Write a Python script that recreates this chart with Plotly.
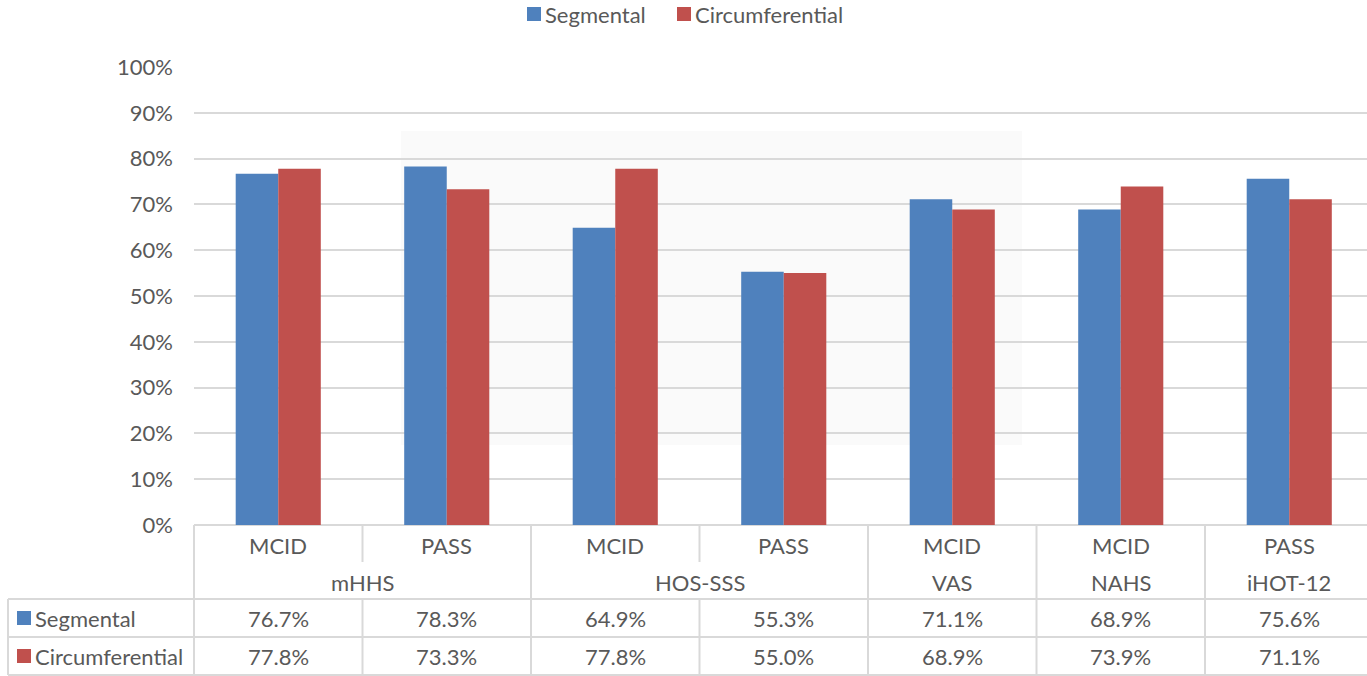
import plotly.graph_objects as go

# Outcome measures and thresholds
categories = ["MCID", "PASS", "MCID", "PASS", "MCID", "MCID", "PASS"]
groups = ["mHHS", "mHHS", "HOS-SSS", "HOS-SSS", "VAS", "NAHS", "iHOT-12"]
segmental = [76.7, 78.3, 64.9, 55.3, 71.1, 68.9, 75.6]
circumferential = [77.8, 73.3, 77.8, 55.0, 68.9, 73.9, 71.1]
series_names = ["Segmental", "Circumferential"]
y_ticks = [0, 10, 20, 30, 40, 50, 60, 70, 80, 90, 100]

BLUE = "#4F81BD"
RED = "#C0504D"
TEXT = "#595959"
LINE = "#D9D9D9"
FONT = "Lato, Carlito, 'Open Sans', sans-serif"
FS = 22

W, H = 1367, 676
ML, MT, MB = 194, 67, 151
PLOT_H = H - MT - MB
X0 = -0.5
X1 = -0.5 + (W - ML) / 168.5

keys = [f"{g} {c}" for g, c in zip(groups, categories)]


def px_x(idx):
    # category-axis position -> paper x
    return (idx - X0) / (X1 - X0)


def abs_x(px):
    return (px - ML) / (W - ML)


def abs_y(py):
    return (H - MB - py) / PLOT_H


fig = go.Figure()
fig.add_trace(go.Bar(x=keys, y=segmental, name=series_names[0],
                     marker=dict(color=BLUE, line=dict(width=0))))
fig.add_trace(go.Bar(x=keys, y=circumferential, name=series_names[1],
                     marker=dict(color=RED, line=dict(width=0))))

shapes = []
annotations = []

# faint background emblem
shapes.append(dict(type="rect", xref="paper", yref="paper",
                   x0=abs_x(401), x1=abs_x(1022), y0=abs_y(445), y1=abs_y(131),
                   fillcolor="#FAFAFA", line=dict(width=0), layer="below"))

# data table grid
y_top, y_mid, y_row1, y_row2, y_bot = 525, 562, 599, 637, 675
right = 1.0
for y in (y_row1, y_row2, y_bot):
    shapes.append(dict(type="line", xref="paper", yref="paper",
                       x0=abs_x(8), x1=right, y0=abs_y(y), y1=abs_y(y),
                       line=dict(color=LINE, width=2)))
shapes.append(dict(type="line", xref="paper", yref="paper",
                   x0=abs_x(8), x1=abs_x(8), y0=abs_y(y_row1), y1=abs_y(y_bot),
                   line=dict(color=LINE, width=2)))
for b in range(len(keys)):
    bx = px_x(b - 0.5)
    same_group = b > 0 and groups[b] == groups[b - 1]
    if same_group:
        segs = [(y_top, y_mid), (y_row1, y_bot)]
    else:
        segs = [(y_top, y_bot)]
    for a, c in segs:
        shapes.append(dict(type="line", xref="paper", yref="paper",
                           x0=bx, x1=bx, y0=abs_y(a), y1=abs_y(c),
                           line=dict(color=LINE, width=2)))

txt = dict(family=FONT, size=FS, color=TEXT)
ctr = dict(xref="paper", yref="paper", showarrow=False, font=txt,
           xanchor="center", yanchor="middle")
lft = dict(ctr, xanchor="left")

for i, c in enumerate(categories):
    annotations.append(dict(ctr, x=px_x(i), y=abs_y(545), text=c))
# group labels centred over their categories
seen = []
for g in groups:
    if g not in seen:
        seen.append(g)
for g in seen:
    idx = [i for i, gg in enumerate(groups) if gg == g]
    annotations.append(dict(ctr, x=px_x(sum(idx) / len(idx)), y=abs_y(582), text=g))
for row_y, vals in ((618, segmental), (656, circumferential)):
    for i, v in enumerate(vals):
        annotations.append(dict(ctr, x=px_x(i), y=abs_y(row_y), text=f"{v:.1f}%"))

# table row keys
for row_y, name, col in ((618, series_names[0], BLUE), (656, series_names[1], RED)):
    shapes.append(dict(type="rect", xref="paper", yref="paper",
                       x0=abs_x(17), x1=abs_x(31), y0=abs_y(row_y + 7), y1=abs_y(row_y - 7),
                       fillcolor=col, line=dict(width=0)))
    annotations.append(dict(lft, x=abs_x(33), y=abs_y(row_y), text=name))

# top legend
for sx, tx, name, col in ((527, 543, series_names[0], BLUE), (677, 693, series_names[1], RED)):
    shapes.append(dict(type="rect", xref="paper", yref="paper",
                       x0=abs_x(sx), x1=abs_x(sx + 14), y0=abs_y(21), y1=abs_y(7),
                       fillcolor=col, line=dict(width=0)))
    annotations.append(dict(lft, x=abs_x(tx), y=abs_y(14), text=name))

fig.update_layout(
    width=W, height=H,
    margin=dict(l=ML, r=0, t=MT, b=MB, pad=0),
    paper_bgcolor="white", plot_bgcolor="rgba(0,0,0,0)",
    barmode="group", bargap=0.495, bargroupgap=0,
    showlegend=False,
    font=txt,
    shapes=shapes, annotations=annotations,
)
fig.update_xaxes(type="category", range=[X0, X1], showticklabels=False,
                 showgrid=False, zeroline=False, showline=False, ticks="")
fig.update_yaxes(range=[0, 100], tickvals=y_ticks,
                 ticktext=[f"{t}%" for t in y_ticks],
                 showgrid=True, gridcolor=LINE, gridwidth=1.5,
                 zeroline=True, zerolinecolor=LINE, zerolinewidth=2,
                 showline=False, ticks="", ticklabelstandoff=20,
                 tickfont=txt)

fig.write_html("out.html")
